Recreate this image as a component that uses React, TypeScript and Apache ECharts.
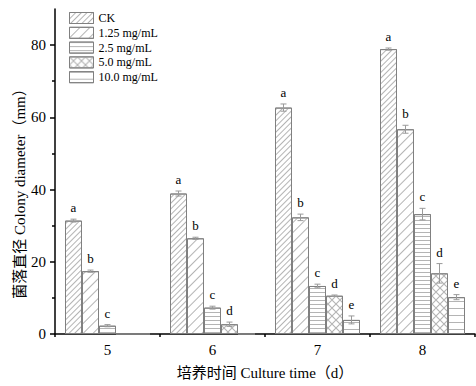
import React, { useEffect, useRef } from 'react';
import * as echarts from 'echarts';

const categories = ['5', '6', '7', '8'];
const seriesNames = ['CK', '1.25 mg/mL', '2.5 mg/mL', '5.0 mg/mL', '10.0 mg/mL'];

const ckValues = [31.4, 38.9, 62.7, 78.9];
const c125Values = [17.4, 26.5, 32.3, 56.7];
const c25Values = [2.3, 7.3, 13.3, 33.2];
const c50Values = [0, 2.7, 10.6, 16.8];
const c100Values = [0, 0, 3.9, 10.2];

const ckErr = [0.4, 0.7, 1.0, 0.3];
const c125Err = [0.3, 0.3, 0.9, 1.1];
const c25Err = [0.3, 0.4, 0.5, 1.6];
const c50Err = [0, 0.6, 0.2, 2.7];
const c100Err = [0, 0, 1.1, 0.7];

const ckLetters = ['a', 'a', 'a', 'a'];
const c125Letters = ['b', 'b', 'b', 'b'];
const c25Letters = ['c', 'c', 'c', 'c'];
const c50Letters = ['', 'd', 'd', 'd'];
const c100Letters = ['', '', 'e', 'e'];

const yTicks = [0, 20, 40, 60, 80];
const yMinorTicks = [10, 30, 50, 70];

const FONT = "'Liberation Serif', 'Times New Roman', 'Noto Sans CJK SC', serif";
const BAR_W = 17;
const LINE_COLOR = '#9a9a9a';
const HATCH = '#b4b4b4';

const crossPath =
  'path://M0,0L1,0L10,9L10,10L9,10L0,1ZM9,0L10,0L10,1L1,10L0,10L0,9Z';

const decals: any[] = [
  { symbol: 'rect', symbolSize: 1, dashArrayX: [1, 0], dashArrayY: [1, 3], rotation: -Math.PI / 4, color: HATCH, backgroundColor: '#fff' },
  { symbol: 'rect', symbolSize: 1, dashArrayX: [1, 0], dashArrayY: [1, 6], rotation: -Math.PI / 4, color: HATCH, backgroundColor: '#fff' },
  { symbol: 'rect', symbolSize: 1, dashArrayX: [1, 0], dashArrayY: [1, 3], rotation: 0, color: HATCH, backgroundColor: '#fff' },
  { symbol: crossPath, symbolSize: 1, dashArrayX: [8, 0], dashArrayY: [8, 0], rotation: 0, color: HATCH, backgroundColor: '#fff' },
  { symbol: 'rect', symbolSize: 1, dashArrayX: [1, 0], dashArrayY: [1, 6], rotation: 0, color: HATCH, backgroundColor: '#fff' },
];

export default function App() {
  const ref = useRef<HTMLDivElement>(null);
  useEffect(() => {
    if (!ref.current) return;
    const chart = echarts.init(ref.current, null, { renderer: 'svg' });
    const values = [ckValues, c125Values, c25Values, c50Values, c100Values];
    const errs = [ckErr, c125Err, c25Err, c50Err, c100Err];
    const letters = [ckLetters, c125Letters, c25Letters, c50Letters, c100Letters];

    const errData: any[] = [];
    const errLetters: string[] = [];
    values.forEach((arr, s) => {
      arr.forEach((v, i) => {
        if (v > 0) {
          errData.push([i, v, errs[s][i], s]);
          errLetters.push(letters[s][i]);
        }
      });
    });

    const barSeries = seriesNames.map((name, s) => ({
      name,
      type: 'bar',
      data: values[s],
      barWidth: BAR_W,
      barGap: '0%',
      itemStyle: {
        color: '#fff',
        borderColor: '#808080',
        borderWidth: 1,
        decal: decals[s],
      },
    }));

    chart.setOption({
      animation: false,
      backgroundColor: '#fff',
      textStyle: { fontFamily: FONT },
      grid: { left: 55, right: 1, top: 9, bottom: 52 },
      legend: {
        data: seriesNames,
        orient: 'vertical',
        left: 69,
        top: 12,
        padding: 0,
        itemWidth: 24,
        itemHeight: 11,
        itemGap: 2.8,
        icon: 'rect',
        textStyle: { fontFamily: FONT, fontSize: 12, color: '#000' },
        itemStyle: { borderColor: '#808080', borderWidth: 1 },
      },
      xAxis: [
        {
          type: 'category',
          data: categories,
          name: '培养时间 Culture time（d）',
          nameLocation: 'middle',
          nameGap: 31,
          nameTextStyle: { fontFamily: FONT, fontSize: 15, color: '#000' },
          axisLine: { lineStyle: { color: '#000', width: 1.5 } },
          axisTick: { alignWithLabel: true, length: 5, lineStyle: { color: '#000', width: 1.5 } },
          axisLabel: { fontFamily: FONT, fontSize: 15, color: '#000', margin: 8 },
        },
        {
          type: 'category',
          data: categories,
          position: 'bottom',
          axisLine: { show: false },
          axisTick: { show: true, alignWithLabel: false, interval: 0, length: 3, lineStyle: { color: '#000', width: 1.5 } },
          axisLabel: { show: false },
        },
      ],
      yAxis: [
        {
          type: 'value',
          min: 0,
          max: 90,
          interval: 20,
          axisLine: { show: true, lineStyle: { color: '#000', width: 1.5 } },
          axisTick: { show: true, length: 5, customValues: yTicks, lineStyle: { color: '#000', width: 1.5 } },
          axisLabel: { customValues: yTicks, fontFamily: FONT, fontSize: 15, color: '#000', margin: 9 },
          splitLine: { show: false },
        },
        {
          type: 'value',
          min: 0,
          max: 90,
          position: 'left',
          axisLine: { show: false },
          axisTick: { show: true, length: 3, customValues: yMinorTicks, lineStyle: { color: '#000', width: 1.5 } },
          axisLabel: { show: false },
          splitLine: { show: false },
        },
      ],
      graphic: [
        {
          type: 'text',
          x: 20,
          y: 190,
          rotation: Math.PI / 2,
          style: {
            text: '菌落直径 Colony diameter（mm）',
            fontFamily: FONT,
            fontSize: 15,
            fill: '#000',
            align: 'center',
            verticalAlign: 'middle',
          },
        },
      ],
      series: [
        ...barSeries,
        {
          type: 'custom',
          name: 'err',
          z: 10,
          data: errData,
          renderItem: (params: any, api: any) => {
            const i = api.value(0);
            const v = api.value(1);
            const e = api.value(2);
            const s = api.value(3);
            const base = api.coord([i, v]);
            const x = base[0] + (s - 2) * BAR_W;
            const yT = api.coord([i, v + e])[1];
            const yB = api.coord([i, v - e])[1];
            const cap = 3;
            const ls = { stroke: LINE_COLOR, lineWidth: 1 };
            return {
              type: 'group',
              children: [
                { type: 'line', shape: { x1: x, y1: yT, x2: x, y2: yB }, style: ls },
                { type: 'line', shape: { x1: x - cap, y1: yT, x2: x + cap, y2: yT }, style: ls },
                { type: 'line', shape: { x1: x - cap, y1: yB, x2: x + cap, y2: yB }, style: ls },
                {
                  type: 'text',
                  x,
                  y: yT - 5,
                  style: {
                    text: errLetters[params.dataIndex],
                    fontFamily: FONT,
                    fontSize: 13,
                    fill: '#000',
                    align: 'center',
                    verticalAlign: 'bottom',
                  },
                },
              ],
            };
          },
        },
      ],
    } as any);
    return () => chart.dispose();
  }, []);
  return <div ref={ref} style={{ width: 476, height: 386, position: 'absolute', left: 0, top: 0 }} />;
}
